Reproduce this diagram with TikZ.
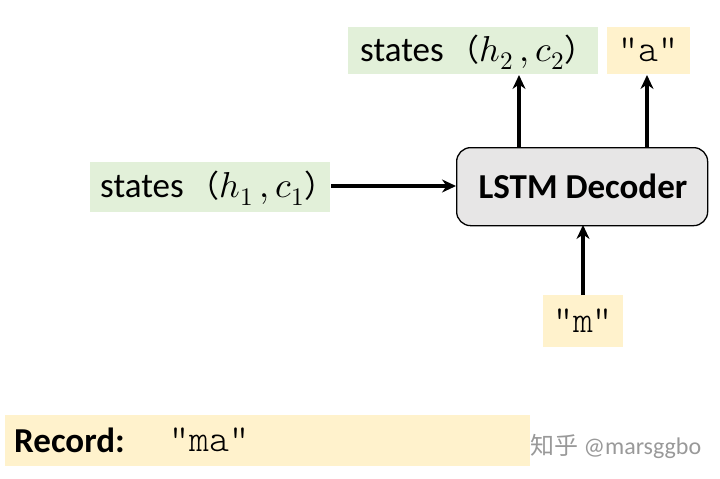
\documentclass[tikz,border=0pt]{standalone}
\usepackage{fontspec}
\usepackage{unicode-math}
\setmainfont{Carlito}
\setmathfont{Latin Modern Math}
\setmonofont{Latin Modern Mono Light}
\newfontfamily\cjk{Noto Sans CJK SC}
\usetikzlibrary{arrows.meta}
\definecolor{lgreen}{HTML}{E2F0D9}
\definecolor{lyellow}{HTML}{FFF2CC}
\definecolor{lgray}{HTML}{E7E6E6}
\tikzset{
  gbox/.style={fill=lgreen, draw=none, inner sep=0pt, anchor=north west},
  ybox/.style={fill=lyellow, draw=none, inner sep=0pt, anchor=north west},
  dec/.style={fill=lgray, draw=black, line width=1.3pt, rounded corners=14pt, inner sep=0pt, anchor=north west},
  lbl/.style={inner sep=0pt, font=\fontsize{35}{40}\selectfont},
  boldlbl/.style={inner sep=0pt, font=\fontsize{35}{40}\selectfont\bfseries},
  mono/.style={inner sep=0pt, font=\fontsize{38}{40}\ttfamily},
  conn/.style={line width=3.6pt, -{Stealth[length=14pt,width=13pt]}},
}
\newcommand{\stt}[2]{states\hspace{0.15em}{\fontsize{31}{38}\selectfont{\cjk （}}{\fontsize{36}{40}\selectfont$#1\mkern3mu,\mkern0mu#2$}{\fontsize{31}{38}\selectfont{\cjk ）}}}
\begin{document}
\begin{tikzpicture}[x=1pt,y=-1pt]
\useasboundingbox (0,0) rectangle (720,479);
% boxes
\node[gbox, minimum width=250pt, minimum height=47pt] (s2) at (348,27) {};
\node[lbl, anchor=base west] at (360,61) {\stt{h_2}{c_2}};
\node[ybox, minimum width=83pt, minimum height=47pt] (a) at (607,27) {};
\node[mono] at (648.5,50) {"a"};
\node[dec, minimum width=251pt, minimum height=78pt] (d) at (456,147) {};
\node[boldlbl] at (583,186) {LSTM Decoder};
\node[gbox, minimum width=240pt, minimum height=50pt] (s1) at (90,162) {};
\node[lbl, anchor=base west] at (100,197) {\stt{h_1}{c_1}};
\node[ybox, minimum width=80pt, minimum height=52pt] (m) at (543,295) {};
\node[mono] at (583,321) {"m"};
\node[ybox, minimum width=525pt, minimum height=51pt] (r) at (5,415) {};
\node[boldlbl, anchor=west] at (14,440) {Record:};
\node[mono, anchor=west] at (169,440) {"ma"};
\node[anchor=west, font=\fontsize{24}{26}\selectfont, text=black!40, inner sep=0pt] at (530,446) {{\cjk 知乎} @marsggbo};
% connectors
\coordinate (d1) at (519,147);
\coordinate (s2b) at (519,75);
\coordinate (d2) at (647,147);
\coordinate (ab) at (647,75);
\coordinate (s1r) at (331,186);
\coordinate (dl) at (456,186);
\coordinate (mt) at (583,295);
\coordinate (db) at (583,225);
\draw[conn] (d1) -- (s2b);
\draw[conn] (d2) -- (ab);
\draw[conn] (s1r) -- (dl);
\draw[conn] (mt) -- (db);
\end{tikzpicture}
\end{document}
